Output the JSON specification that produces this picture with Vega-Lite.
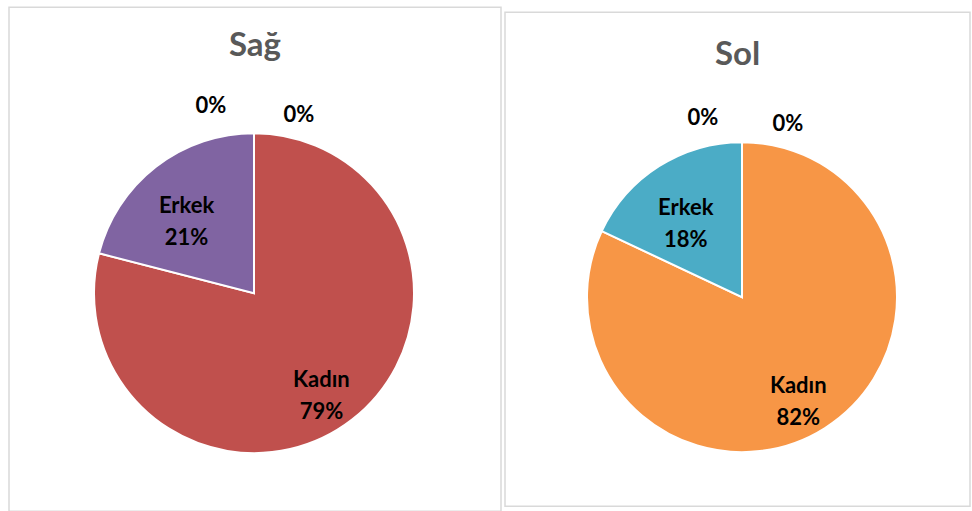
{
  "$schema": "https://vega.github.io/schema/vega-lite/v6.json",
  "background": "white",
  "padding": {"left": 8, "top": 6, "right": 0, "bottom": 0},
  "config": {
    "view": {"stroke": "#d9d9d9", "strokeWidth": 1.5},
    "font": "Lato",
    "title": {"font": "Lato", "fontSize": 33, "fontWeight": "bold", "color": "#595959", "anchor": "middle", "baseline": "alphabetic"}
  },
  "datasets": {
    "sag": [
      {"cinsiyet": "Kadın", "yuzde": 79, "sira": 1},
      {"cinsiyet": "Erkek", "yuzde": 21, "sira": 2},
      {"cinsiyet": "Diğer", "yuzde": 0, "sira": 3},
      {"cinsiyet": "Belirtilmemiş", "yuzde": 0, "sira": 4}
    ],
    "sol": [
      {"cinsiyet": "Kadın", "yuzde": 82, "sira": 1},
      {"cinsiyet": "Erkek", "yuzde": 18, "sira": 2},
      {"cinsiyet": "Diğer", "yuzde": 0, "sira": 3},
      {"cinsiyet": "Belirtilmemiş", "yuzde": 0, "sira": 4}
    ]
  },
  "hconcat": [
    {
      "width": 492,
      "height": 504,
      "view": {"stroke": "#d9d9d9", "strokeWidth": 1.5, "fill": "white"},
      "title": {"text": "Sağ", "offset": -56},
      "data": {"name": "sag"},
      "transform": [
        {"calculate": "datum.cinsiyet + '\\n' + datum.yuzde + '%'", "as": "etiket"},
        {"calculate": "datum.yuzde + '%'", "as": "oran"}
      ],
      "encoding": {
        "theta": {"field": "yuzde", "type": "quantitative", "stack": true},
        "order": {"field": "sira", "type": "ordinal"},
        "color": {
          "field": "cinsiyet", "type": "nominal", "legend": null,
          "scale": {"domain": ["Kadın", "Erkek", "Diğer", "Belirtilmemiş"], "range": ["#c0504d", "#8064a2", "#9bbb59", "#4bacc6"]}
        }
      },
      "layer": [
        {"mark": {"type": "arc", "outerRadius": 160, "stroke": "white", "strokeWidth": 2, "yOffset": 34, "xOffset": -1}},
        {
          "transform": [{"filter": "datum.yuzde > 0"}],
          "mark": {"type": "text", "radius": 110, "yOffset": 34, "xOffset": -1, "fontSize": 22, "fontWeight": "bold", "lineBreak": "\n", "lineHeight": 32, "align": "center", "baseline": "middle"},
          "encoding": {"text": {"field": "etiket"}, "color": {"value": "#000000"}}
        },
        {
          "transform": [{"filter": "datum.cinsiyet === 'Diğer'"}],
          "mark": {"type": "text", "radius": 187, "dx": -43, "yOffset": 34, "xOffset": -1, "fontSize": 22, "fontWeight": "bold", "align": "center", "baseline": "middle"},
          "encoding": {"text": {"field": "oran"}, "color": {"value": "#000000"}}
        },
        {
          "transform": [{"filter": "datum.cinsiyet === 'Belirtilmemiş'"}],
          "mark": {"type": "text", "radius": 178, "dx": 45, "yOffset": 34, "xOffset": -1, "fontSize": 22, "fontWeight": "bold", "align": "center", "baseline": "middle"},
          "encoding": {"text": {"field": "oran"}, "color": {"value": "#000000"}}
        }
      ]
    },
    {
      "width": 465,
      "height": 494,
      "view": {"stroke": "#d9d9d9", "strokeWidth": 1.5, "fill": "white"},
      "title": {"text": "Sol", "offset": -60},
      "data": {"name": "sol"},
      "transform": [
        {"calculate": "datum.cinsiyet + '\\n' + datum.yuzde + '%'", "as": "etiket"},
        {"calculate": "datum.yuzde + '%'", "as": "oran"}
      ],
      "encoding": {
        "theta": {"field": "yuzde", "type": "quantitative", "stack": true},
        "order": {"field": "sira", "type": "ordinal"},
        "color": {
          "field": "cinsiyet", "type": "nominal", "legend": null,
          "scale": {"domain": ["Kadın", "Erkek", "Diğer", "Belirtilmemiş"], "range": ["#f79646", "#4bacc6", "#8064a2", "#9bbb59"]}
        }
      },
      "layer": [
        {"mark": {"type": "arc", "outerRadius": 155, "stroke": "white", "strokeWidth": 2, "yOffset": 38, "xOffset": 4.5}},
        {
          "transform": [{"filter": "datum.yuzde > 0"}],
          "mark": {"type": "text", "radius": 105, "yOffset": 38, "xOffset": 4.5, "fontSize": 22, "fontWeight": "bold", "lineBreak": "\n", "lineHeight": 32, "align": "center", "baseline": "middle"},
          "encoding": {"text": {"field": "etiket"}, "color": {"value": "#000000"}}
        },
        {
          "transform": [{"filter": "datum.cinsiyet === 'Diğer'"}],
          "mark": {"type": "text", "radius": 179, "dx": -39, "yOffset": 38, "xOffset": 4.5, "fontSize": 22, "fontWeight": "bold", "align": "center", "baseline": "middle"},
          "encoding": {"text": {"field": "oran"}, "color": {"value": "#000000"}}
        },
        {
          "transform": [{"filter": "datum.cinsiyet === 'Belirtilmemiş'"}],
          "mark": {"type": "text", "radius": 173, "dx": 46, "yOffset": 38, "xOffset": 4.5, "fontSize": 22, "fontWeight": "bold", "align": "center", "baseline": "middle"},
          "encoding": {"text": {"field": "oran"}, "color": {"value": "#000000"}}
        }
      ]
    }
  ],
  "spacing": 2,
  "center": true,
  "resolve": {"scale": {"color": "independent", "theta": "independent"}}
}
